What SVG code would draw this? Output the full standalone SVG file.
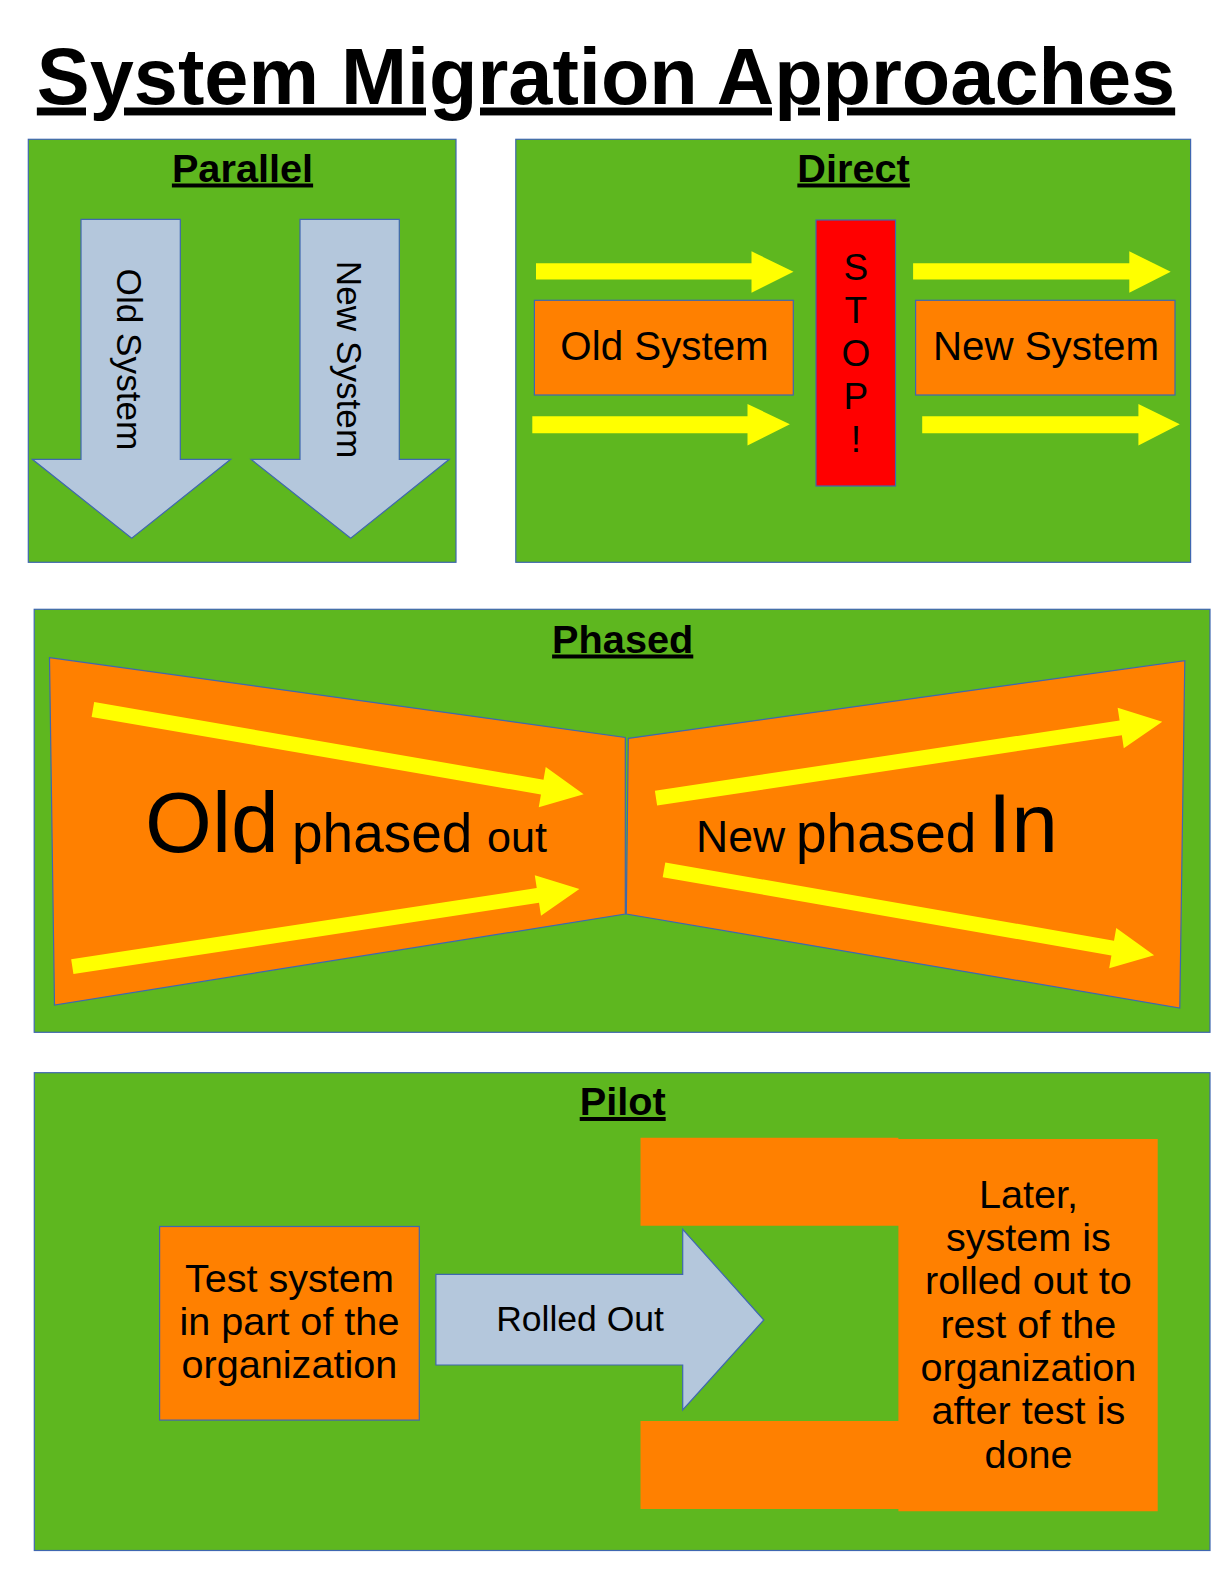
<svg xmlns="http://www.w3.org/2000/svg" width="1224" height="1584" viewBox="0 0 1224 1584">
<style>
text{font-family:"Liberation Sans",Arial,sans-serif;fill:#000}
.panel{fill:#5EB71F;stroke:#3F67B0;stroke-width:1.2}
.org{fill:#FF8000;stroke:#3F67B0;stroke-width:1.2}
.orgn{fill:#FF8000}
.blue{fill:#B4C7DC;stroke:#3F67B0;stroke-width:1.2}
.yel{fill:#FFFF00}
.head{font-weight:bold;font-size:39.7px;text-decoration:underline;text-anchor:middle}
.mid{text-anchor:middle}
</style>
<rect width="1224" height="1584" fill="#fff"/>
<text x="606" y="103.5" style="font-weight:bold;font-size:79.3px;text-decoration:underline" text-anchor="middle">System Migration Approaches</text>

<g id="parallel">
<rect class="panel" x="28.3" y="139.3" width="427.7" height="423"/>
<text class="head" x="242.5" y="181.5">Parallel</text>
<g id="par-old">
<path class="blue" d="M81,219.3 H180.3 V459.3 H230.7 L131.7,538.3 L32.3,459.3 H81 Z"/>
<text transform="translate(129.8,359.5) rotate(90)" y="12.5" class="mid" font-size="35.2">Old System</text>
</g>
<g id="par-new">
<path class="blue" d="M300,219.3 H399.3 V459.3 H449.3 L350.7,538.3 L251,459.3 H300 Z"/>
<text transform="translate(349.2,359.5) rotate(90)" y="12.5" class="mid" font-size="35.2">New System</text>
</g>
</g>

<g id="direct">
<rect class="panel" x="515.8" y="139.3" width="674.8" height="423"/>
<text class="head" x="853.6" y="181.5">Direct</text>
<g id="dir-old">
<rect class="org" x="534.4" y="300.3" width="258.9" height="94.7"/>
<text class="mid" x="664.5" y="359.5" font-size="40.3">Old System</text>
</g>
<g id="dir-stop">
<rect x="816" y="220" width="79.5" height="266" fill="#FF0000" stroke="#3F67B0" stroke-width="1.2"/>
<text class="mid" font-size="37"><tspan x="855.8" y="279.5">S</tspan><tspan x="855.8" y="322.5">T</tspan><tspan x="855.8" y="366">O</tspan><tspan x="855.8" y="408.7">P</tspan><tspan x="855.8" y="452">!</tspan></text>
</g>
<g id="dir-new">
<rect class="org" x="915.6" y="300.3" width="259.4" height="94.7"/>
<text class="mid" x="1046" y="359.5" font-size="40.3">New System</text>
</g>
</g>

<g id="phased">
<rect class="panel" x="34.2" y="609.3" width="1175.8" height="423"/>
<text class="head" x="622.7" y="652.5">Phased</text>
<g id="ph-old">
<path class="org" d="M49.5,657.6 L625.3,737.4 L625.3,914.1 L54.5,1005 Z"/>
<text y="851.5"><tspan x="145" font-size="86">Old</tspan><tspan x="292" font-size="55">phased</tspan><tspan x="487" font-size="43.2">out</tspan></text>
</g>
<g id="ph-new">
<path class="org" d="M628.3,738.4 L1184.8,660.6 L1179.8,1008 L626.3,914.1 Z"/>
<text y="851.5"><tspan x="696" font-size="44.5">New</tspan><tspan x="796" font-size="55">phased</tspan><tspan x="988" font-size="84">In</tspan></text>
</g>
</g>

<g id="pilot">
<rect class="panel" x="34.3" y="1072.7" width="1175.7" height="477.8"/>
<text class="head" x="622.7" y="1115">Pilot</text>
<g id="pi-test">
<rect class="org" x="159.6" y="1226.5" width="259.7" height="193.6"/>
<text class="mid" font-size="39.6"><tspan x="289.4" y="1291.7">Test system</tspan><tspan x="289.4" y="1335">in part of the</tspan><tspan x="289.4" y="1378.3">organization</tspan></text>
</g>
<g id="pi-later">
<path class="orgn" d="M640.5,1137.7 H898.4 V1139 H1157.7 V1511.3 H898.4 V1509 H640.5 V1421 H898.4 V1225.7 H640.5 Z"/>
<text class="mid" font-size="39.6"><tspan x="1028.4" y="1207.7">Later,</tspan><tspan x="1028.4" y="1251">system is</tspan><tspan x="1028.4" y="1294.3">rolled out to</tspan><tspan x="1028.4" y="1337.6">rest of the</tspan><tspan x="1028.4" y="1381">organization</tspan><tspan x="1028.4" y="1424.3">after test is</tspan><tspan x="1028.4" y="1467.7">done</tspan></text>
</g>
</g>

<g id="connectors">
<path class="yel" d="M536,263.3 H751.5 V251.3 L793.5,271.7 L751.5,292.7 V279.5 H536 Z"/>
<path class="yel" d="M532.3,416.2 H747.5 V404 L789.9,424.2 L747.5,445.5 V433.3 H532.3 Z"/>
<path class="yel" d="M913.1,263.3 H1129.3 V251.3 L1170.7,271.7 L1129.3,292.7 V279.5 H913.1 Z"/>
<path class="yel" d="M922.2,416.2 H1138.4 V404 L1179.8,424.2 L1138.4,445.5 V433.3 H922.2 Z"/>
<path class="yel" transform="translate(92.9,709.5) rotate(9.8)" d="M0,-7.5 H456 V-20.5 L498,0 L456,20.5 V7.5 H0 Z"/>
<path class="yel" transform="translate(72.3,966.7) rotate(-8.7)" d="M0,-7.5 H471 V-20.5 L513,0 L471,20.5 V7.5 H0 Z"/>
<path class="yel" transform="translate(656,798.2) rotate(-8.6)" d="M0,-7.5 H470 V-20.5 L512,0 L470,20.5 V7.5 H0 Z"/>
<path class="yel" transform="translate(664,869.8) rotate(9.9)" d="M0,-7.5 H455.5 V-20.5 L497.5,0 L455.5,20.5 V7.5 H0 Z"/>
<g id="rolled-out">
<path class="blue" d="M435.9,1274.3 H682.7 V1229.3 L763.8,1320 L682.7,1410 V1365 H435.9 Z"/>
<text class="mid" x="580" y="1331" font-size="35.5">Rolled Out</text>
</g>
</g>
</svg>
